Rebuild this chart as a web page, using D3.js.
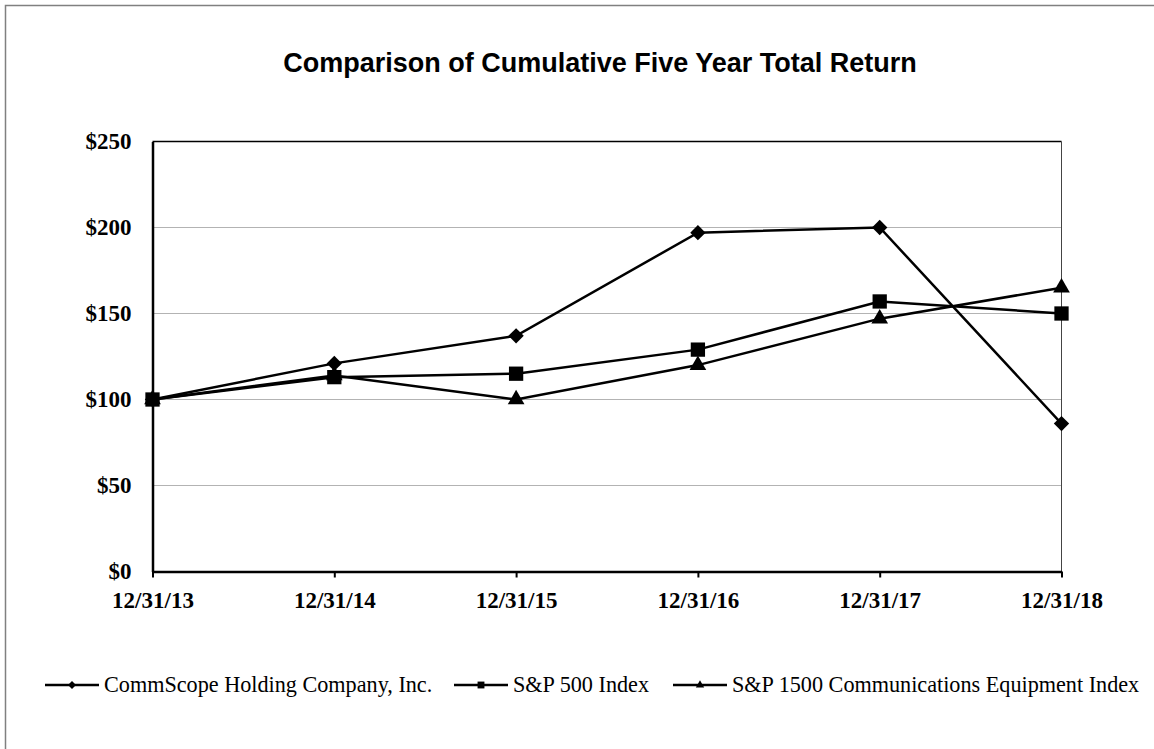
<!DOCTYPE html>
<html lang="en">
    <head>
        <meta charset="utf-8">
        <title>Cumulative Total Return</title>
        <script src="https://d3js.org/d3.v7.min.js"></script>
        <style type="text/css">
            body {
                margin: 0;
                background: white;
            }

            .title {
                font-family: "Liberation Sans", Arial, sans-serif;
                font-size: 27px;
                font-weight: bold;
            }

            .axis text {
                font-family: "Liberation Serif", "Times New Roman", serif;
                font-size: 23px;
                font-weight: bold;
                fill: black;
            }

            .legend text {
                font-family: "Liberation Serif", "Times New Roman", serif;
                font-size: 22.2px;
                fill: black;
            }
        </style>
    </head>
    <body>
        <svg width="1154" height="749"></svg>
        <script type="text/javascript">

            // data
            const dates = ["12/31/13", "12/31/14", "12/31/15", "12/31/16", "12/31/17", "12/31/18"];
            const commscope = [100, 121, 137, 197, 200, 86];
            const sp500 = [100, 113, 115, 129, 157, 150];
            const sp1500Comm = [100, 114, 100, 120, 147, 165];
            const seriesNames = ["CommScope Holding Company, Inc.", "S&P 500 Index", "S&P 1500 Communications Equipment Index"];
            const markers = ["diamond", "square", "triangle"];
            const yTicks = [0, 50, 100, 150, 200, 250];

            const series = [commscope, sp500, sp1500Comm].map((vals, i) => ({
                name: seriesNames[i],
                marker: markers[i],
                values: vals.map((v, j) => ({date: dates[j], value: v}))
            }));

            const svg = d3.select("svg");

            // outer frame (right / bottom edges fall outside the window)
            svg.append("rect")
               .attr("x", 5.5)
               .attr("y", 5.5)
               .attr("width", 1200)
               .attr("height", 800)
               .attr("fill", "none")
               .attr("stroke", "#808080")
               .attr("stroke-width", 1.5);

            const plotLeft = 152.5, plotRight = 1061.5, plotTop = 141.5, plotBottom = 571.5;

            const x = d3.scalePoint()
                        .domain(dates)
                        .range([plotLeft, plotRight]);

            const y = d3.scaleLinear()
                        .domain([0, 250])
                        .range([plotBottom, plotTop]);

            // title, centred on the whole chart frame
            svg.append("text")
               .attr("class", "title")
               .attr("x", 600)
               .attr("y", 71.5)
               .attr("text-anchor", "middle")
               .text("Comparison of Cumulative Five Year Total Return");

            // gridlines
            svg.append("g")
               .selectAll("line")
               .data(yTicks.filter(d => d > 0 && d < 250))
               .enter()
               .append("line")
               .attr("x1", plotLeft)
               .attr("x2", plotRight)
               .attr("y1", d => y(d))
               .attr("y2", d => y(d))
               .attr("stroke", "#b3b3b3")
               .attr("stroke-width", 1);

            // plot frame: top and right
            svg.append("line")
               .attr("x1", plotLeft).attr("x2", plotRight)
               .attr("y1", plotTop).attr("y2", plotTop)
               .attr("stroke", "black")
               .attr("stroke-width", 1.5);
            svg.append("line")
               .attr("x1", plotRight).attr("x2", plotRight)
               .attr("y1", plotTop).attr("y2", plotBottom)
               .attr("stroke", "#444")
               .attr("stroke-width", 1);

            // y axis
            const yAxis = svg.append("g")
                .attr("class", "axis")
                .attr("transform", "translate(" + plotLeft + ",0)")
                .call(d3.axisLeft(y)
                        .tickValues(yTicks)
                        .tickSize(0)
                        .tickPadding(21)
                        .tickFormat(d => "$" + d));
            yAxis.select(".domain").attr("stroke", "black").attr("stroke-width", 2.5);

            // x axis
            const xAxis = svg.append("g")
                .attr("class", "axis")
                .attr("transform", "translate(0," + plotBottom + ")")
                .call(d3.axisBottom(x)
                        .tickSizeInner(6)
                        .tickSizeOuter(0)
                        .tickPadding(14));
            xAxis.select(".domain").attr("stroke", "black").attr("stroke-width", 2.5);
            xAxis.selectAll(".tick line").attr("stroke", "black").attr("stroke-width", 2);

            // marker shapes
            const symbolFor = {
                diamond: d3.symbol().type(d3.symbolDiamond2).size(150),
                square: d3.symbol().type(d3.symbolSquare2).size(260),
                triangle: d3.symbol().type(d3.symbolTriangle2).size(200)
            };
            const smallSymbolFor = {
                diamond: d3.symbol().type(d3.symbolDiamond2).size(40),
                square: d3.symbol().type(d3.symbolSquare2).size(60),
                triangle: d3.symbol().type(d3.symbolTriangle2).size(50)
            };

            const line = d3.line()
                           .x(d => x(d.date))
                           .y(d => y(d.value));

            const groups = svg.selectAll("g.series")
                .data(series)
                .enter()
                .append("g")
                .attr("class", "series");

            groups.append("path")
                  .attr("d", d => line(d.values))
                  .attr("fill", "none")
                  .attr("stroke", "black")
                  .attr("stroke-width", 2.5);

            groups.each(function(s) {
                d3.select(this).selectAll("path.marker")
                  .data(s.values)
                  .enter()
                  .append("path")
                  .attr("class", "marker")
                  .attr("transform", d => "translate(" + x(d.date) + "," + y(d.value) + ")")
                  .attr("d", symbolFor[s.marker])
                  .attr("fill", "black");
            });

            // legend
            const legendX = [45, 454, 673];
            const legend = svg.append("g")
                .attr("class", "legend")
                .selectAll("g")
                .data(series)
                .enter()
                .append("g")
                .attr("transform", (d, i) => "translate(" + legendX[i] + ",685)");

            legend.append("line")
                  .attr("x1", 0).attr("x2", 54)
                  .attr("y1", 0).attr("y2", 0)
                  .attr("stroke", "black")
                  .attr("stroke-width", 2.5);

            legend.append("path")
                  .attr("transform", "translate(27,0)")
                  .attr("d", d => smallSymbolFor[d.marker]())
                  .attr("fill", "black");

            legend.append("text")
                  .attr("x", 59)
                  .attr("y", 7)
                  .text(d => d.name);

        </script>
    </body>
</html>
